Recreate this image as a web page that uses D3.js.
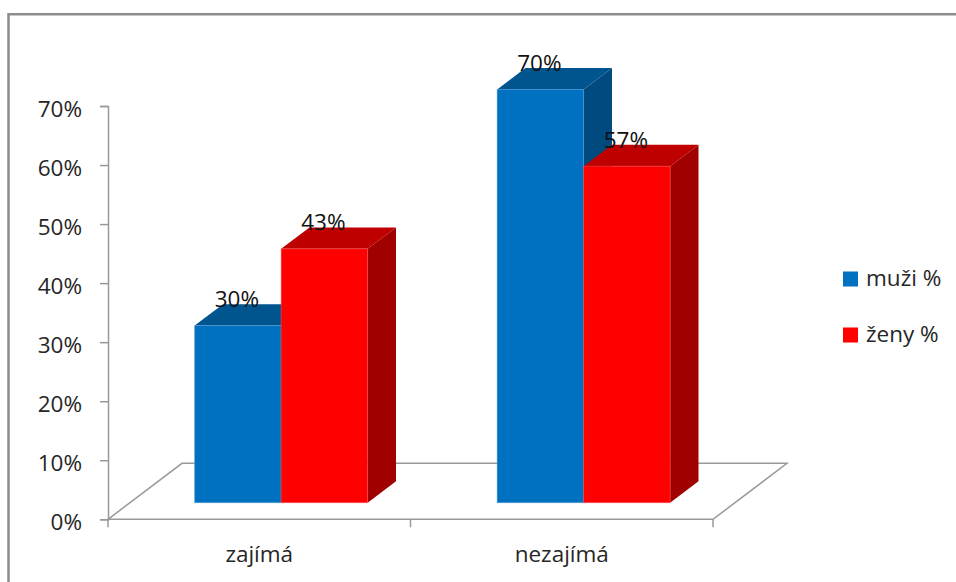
<!DOCTYPE html>
<html>
<head>
<meta charset="utf-8">
<script src="https://cdn.jsdelivr.net/npm/d3@7/dist/d3.min.js"></script>
<style>
html,body{margin:0;padding:0;background:#fff;}
svg{display:block;}
text{font-family:"Open Sans",sans-serif;}
</style>
</head>
<body>
<svg id="chart" width="956" height="582"></svg>
<script>
const categories = ["zajímá", "nezajímá"];
const seriesNames = ["muži %", "ženy %"];
const muzi = [0.30, 0.70];
const zeny = [0.43, 0.57];
const yTicks = [0, 0.1, 0.2, 0.3, 0.4, 0.5, 0.6, 0.7];

const seriesValues = [muzi, zeny];
const colors = [
  {front:"#0070C0", top:"#00558F", side:"#004A80", edge:"#4A9AD6"},
  {front:"#FF0000", top:"#BF0000", side:"#A00000", edge:"#FF5050"}
];

const svg = d3.select("#chart");

// frame
svg.append("path").attr("d","M8.5,582V14.3H956")
  .attr("fill","none").attr("stroke","#8c8c8c").attr("stroke-width",2.5);

const axisLeft = 108, axisRight = 713;
const depthX = 74, depthY = -56;
const z0 = 0.296, z1 = 0.679;

const x0 = d3.scaleBand().domain(categories).range([axisLeft, axisRight]);
const y = d3.scaleLinear().domain([0, 0.7]).range([519.3, 106]);
const groupHalf = 86.5;

function P(x, v, z){ return [x + depthX*z, y(v) + depthY*z]; }

const floorG = svg.append("g");
// floor
const floorPts = [P(axisLeft,0,0), P(axisLeft,0,1), P(axisRight,0,1), P(axisRight,0,0)];
floorG.append("path")
  .attr("d", "M" + floorPts.map(p=>p.join(",")).join("L") + "Z")
  .attr("fill","#ffffff").attr("stroke","#999").attr("stroke-width",1.5);

// y axis
const yAxisG = svg.append("g").attr("transform",`translate(${axisLeft},0)`);
const yAxis = d3.axisLeft(y).tickValues(yTicks).tickFormat(d3.format(".0%")).tickSize(8).tickPadding(18);
yAxisG.call(yAxis);
yAxisG.select(".domain").attr("stroke","#999").attr("stroke-width",1.5);
yAxisG.selectAll(".tick line").attr("stroke","#999").attr("stroke-width",1.5);
yAxisG.selectAll(".tick text").attr("font-size",22.5).attr("fill","#262626")
  .attr("font-family","'Open Sans',sans-serif").attr("dy","0.45em");

// x axis ticks and labels
const xAxisG = svg.append("g").attr("transform",`translate(0,${y(0)})`);
const xAxis = d3.axisBottom(x0).tickSize(0).tickPadding(27);
xAxisG.call(xAxis);
xAxisG.select(".domain").remove();
xAxisG.selectAll(".tick text").attr("font-size",22.5).attr("fill","#262626")
  .attr("font-family","'Open Sans',sans-serif");
const boundaries = [axisLeft].concat(categories.map(c => x0(c) + x0.bandwidth()));
xAxisG.selectAll("line.bt").data(boundaries).join("line").attr("class","bt")
  .attr("x1",d=>d).attr("x2",d=>d).attr("y1",0).attr("y2",8)
  .attr("stroke","#999").attr("stroke-width",1.5);

// bars
const barsG = svg.append("g");
const bars = [];
categories.forEach((c, ci) => {
  const center = x0(c) + x0.bandwidth()/2;
  const x1 = d3.scaleBand().domain(seriesNames).range([center - groupHalf, center + groupHalf]);
  seriesNames.forEach((s, si) => {
    bars.push({cat:c, s, si, v: seriesValues[si][ci], xl: x1(s), xr: x1(s) + x1.bandwidth()});
  });
});

const line = pts => "M" + pts.map(p=>p.join(",")).join("L") + "Z";
bars.forEach(b => {
  const col = colors[b.si];
  const g = barsG.append("g");
  g.append("path").attr("d", line([P(b.xr,0,z0), P(b.xr,0,z1), P(b.xr,b.v,z1), P(b.xr,b.v,z0)]))
    .attr("fill", col.side);
  g.append("path").attr("d", line([P(b.xl,b.v,z0), P(b.xl,b.v,z1), P(b.xr,b.v,z1), P(b.xr,b.v,z0)]))
    .attr("fill", col.top);
  const f0 = P(b.xl,0,z0), f1 = P(b.xr,b.v,z0);
  g.append("rect").attr("x", f0[0]).attr("y", f1[1]).attr("width", f1[0]-f0[0]).attr("height", f0[1]-f1[1])
    .attr("fill", col.front).attr("stroke", col.edge).attr("stroke-width",0.8).attr("stroke-opacity",0.6);
});

// data labels
svg.append("g").selectAll("text").data(bars).join("text")
  .attr("x", d => P((d.xl+d.xr)/2, d.v, z0)[0] - 1)
  .attr("y", d => P(0, d.v, z1)[1] + 3)
  .attr("text-anchor","middle").attr("font-size",22.5).attr("fill","#111")
  .text(d => d3.format(".0%")(d.v));

// legend
const legend = svg.append("g");
const legY = [286, 342];
seriesNames.forEach((s, i) => {
  legend.append("rect").attr("x",843).attr("y",legY[i]-14.5).attr("width",15).attr("height",15)
    .attr("fill", colors[i].front);
  legend.append("text").attr("x",866).attr("y",legY[i]).attr("font-size",22.5).attr("fill","#262626").text(s);
});
</script>
</body>
</html>
